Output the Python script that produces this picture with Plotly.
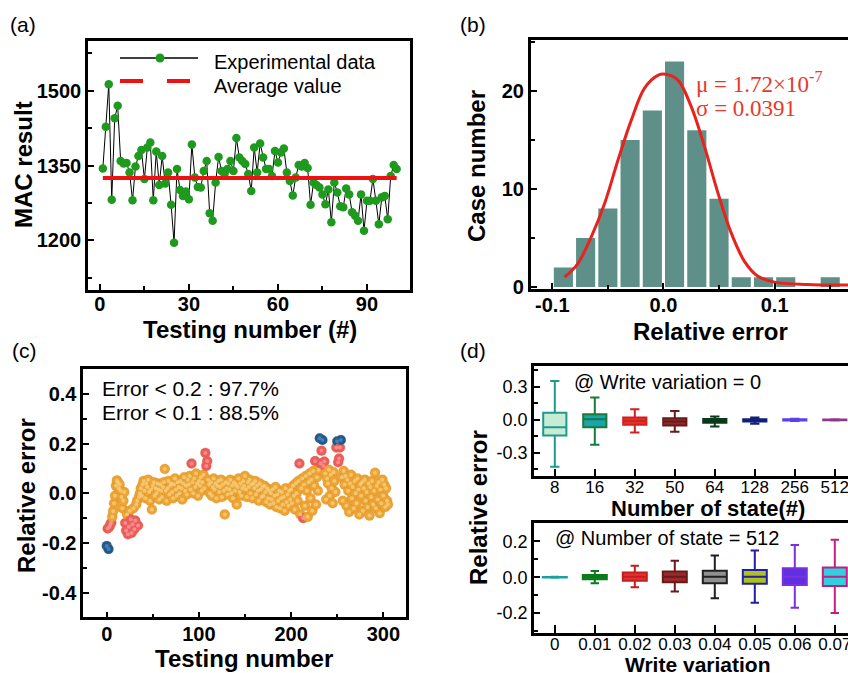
import plotly.graph_objects as go

W, H = 848, 673
SANS = "Liberation Sans, Arial, sans-serif"
SERIF = "Liberation Serif, Times New Roman, serif"

# ---------------- data ----------------
# (a) MAC results
mac_test_no = list(range(1, 101))
mac_result = [1344, 1428, 1513, 1281, 1445, 1470, 1359, 1354, 1355, 1336,
              1280, 1348, 1369, 1381, 1323, 1386, 1396, 1280, 1378, 1311,
              1369, 1314, 1336, 1271, 1195, 1343, 1301, 1289, 1298, 1282,
              1392, 1326, 1307, 1306, 1339, 1359, 1254, 1239, 1316, 1367,
              1339, 1333, 1343, 1359, 1339, 1405, 1366, 1359, 1353, 1333,
              1299, 1386, 1336, 1394, 1366, 1343, 1343, 1329, 1379, 1356,
              1376, 1384, 1336, 1319, 1290, 1326, 1351, 1348, 1355, 1345,
              1271, 1316, 1311, 1306, 1292, 1272, 1302, 1236, 1316, 1296,
              1268, 1266, 1304, 1292, 1256, 1249, 1239, 1292, 1219, 1279,
              1279, 1323, 1279, 1232, 1286, 1289, 1242, 1329, 1351, 1343]
mac_average = 1325
mac_xticks = [0, 30, 60, 90]
mac_yticks = [1200, 1350, 1500]

# (b) histogram of relative error
hist_centers = [-0.09, -0.07, -0.05, -0.03, -0.01, 0.01, 0.03, 0.05, 0.07, 0.09, 0.11, 0.15]
hist_counts = [2, 5, 8, 15, 18, 23, 16, 9, 1, 1, 1, 1]
fit_x = [-0.089, -0.077, -0.065, -0.053, -0.041, -0.029, -0.017, -0.005, 0.002,
         0.013, 0.025, 0.037, 0.049, 0.061, 0.073, 0.085, 0.100, 0.129, 0.166]
fit_y = [1.0, 2.4, 5.1, 8.5, 12.9, 17.0, 20.3, 21.6, 21.7,
         21.1, 18.4, 14.3, 9.6, 5.5, 2.6, 1.1, 0.5, 0.25, 0.2]
hist_xticks = [-0.1, 0.0, 0.1]
hist_yticks = [0, 10, 20]

# (c) relative error per test
rel_err = [
    -0.212, -0.142, -0.225, -0.135, -0.125, -0.118, -0.095, -0.072, -0.040, -0.010,
    0.030, 0.052, 0.045, 0.020, 0.035, 0.010, -0.015, -0.060, -0.030, 0.005,
    -0.120, -0.150, -0.085, -0.165, -0.135, -0.070, -0.105, -0.160, -0.125, -0.060,
    -0.145, -0.110, -0.045, -0.030, -0.130, -0.015, 0.000, 0.020, -0.010, 0.035,
    0.050, 0.010, -0.020, 0.040, 0.025, 0.055, 0.005, -0.030, 0.015, -0.065,
    0.030, 0.045, -0.010, 0.020, 0.000, 0.040, 0.015, -0.025, 0.035, 0.010,
    -0.015, 0.025, 0.045, 0.098, 0.010, -0.030, 0.020, 0.050, -0.005, 0.030,
    0.040, 0.005, -0.020, 0.035, 0.060, 0.015, -0.010, 0.045, 0.025, 0.000,
    0.050, 0.020, -0.025, 0.040, 0.065, 0.010, 0.030, -0.005, 0.055, 0.035,
    0.070, 0.015, 0.120, 0.045, 0.000, 0.060, 0.025, 0.080, 0.040, -0.010,
    0.050, 0.030, 0.065, 0.010, 0.045, 0.075, 0.020, 0.163, 0.110, 0.130,
    0.055, 0.035, 0.000, 0.045, -0.010, 0.025, 0.060, 0.015, 0.040, -0.020,
    0.030, 0.050, 0.005, 0.025, 0.055, -0.015, 0.035, 0.010, -0.085, 0.045,
    0.020, -0.005, 0.040, 0.015, 0.055, 0.000, 0.030, -0.020, 0.045, 0.010,
    0.035, -0.045, 0.025, 0.060, 0.005, 0.040, -0.010, 0.020, 0.050, 0.030,
    0.070, 0.015, -0.015, 0.045, 0.025, 0.055, 0.000, 0.035, -0.020, 0.040,
    0.020, 0.050, -0.005, 0.030, 0.010, -0.030, 0.040, 0.015, -0.015, 0.025,
    -0.010, 0.030, 0.005, -0.035, 0.020, -0.020, 0.010, -0.045, 0.000, -0.025,
    0.015, -0.040, -0.010, 0.025, -0.055, -0.005, -0.030, 0.010, -0.060, -0.020,
    0.005, -0.045, -0.015, -0.070, 0.020, -0.035, -0.005, -0.050, 0.010, -0.025,
    0.015, -0.040, 0.030, -0.010, -0.065, 0.040, 0.000, -0.030, 0.050, 0.120,
    -0.085, 0.020, 0.060, -0.100, 0.035, -0.050, 0.070, 0.010, -0.095, 0.045,
    0.080, -0.020, 0.055, -0.070, 0.090, 0.030, 0.130, -0.045, 0.065, 0.010,
    0.095, 0.222, 0.120, 0.172, 0.215, 0.110, 0.128, 0.080, -0.025, 0.060,
    0.040, 0.095, -0.010, 0.075, 0.020, -0.040, 0.085, 0.050, 0.005, 0.185,
    0.210, 0.125, 0.140, 0.185, 0.215, 0.065, -0.030, 0.090, 0.035, 0.070,
    -0.050, 0.055, 0.010, -0.075, 0.040, 0.075, -0.020, 0.025, -0.060, 0.050,
    0.000, -0.040, 0.060, 0.015, -0.085, 0.035, -0.010, 0.045, -0.070, 0.020,
    0.055, -0.030, 0.005, -0.055, 0.040, -0.090, 0.025, -0.015, 0.050, -0.045,
    0.010, 0.083, -0.060, 0.030, -0.025, 0.045, -0.080, 0.015, -0.040, 0.055,
    -0.010, 0.035, -0.055, 0.020, -0.030, -0.045]
test_no_c = list(range(len(rel_err)))
err_xticks = [0, 100, 200, 300]
err_yticks = [-0.4, -0.2, 0.0, 0.2, 0.4]

# (d) box statistics
state_labels = ["8", "16", "32", "50", "64", "128", "256", "512"]
state_q1 = [-0.141, -0.066, -0.045, -0.051, -0.027, -0.015, -0.005, -0.003]
state_med = [-0.066, 0.006, -0.009, -0.015, -0.006, -0.003, 0.0, 0.0]
state_q3 = [0.066, 0.051, 0.021, 0.015, 0.009, 0.006, 0.005, 0.003]
state_lo = [-0.426, -0.225, -0.114, -0.108, -0.060, -0.036, -0.010, -0.006]
state_hi = [0.354, 0.204, 0.096, 0.081, 0.030, 0.021, 0.010, 0.006]
state_fill = ["#c6ecd6", "#1aa3b0", "#e8302a", "#8e2a2a", "#1a1a1a", "#1a2a9a", "#4a4aff", "#9a4a9a"]
state_line = ["#1f9a8a", "#1a7a3a", "#d02020", "#6a1a1a", "#0a3a1a", "#10207a", "#5a40f0", "#8a3a8a"]

wv_labels = ["0", "0.01", "0.02", "0.03", "0.04", "0.05", "0.06", "0.07"]
wv_q1 = [-0.001, -0.011, -0.019, -0.028, -0.034, -0.037, -0.043, -0.049]
wv_med = [0.0, 0.002, 0.003, 0.003, 0.003, 0.003, 0.003, 0.003]
wv_q3 = [0.001, 0.013, 0.026, 0.032, 0.036, 0.041, 0.050, 0.054]
wv_lo = [-0.003, -0.034, -0.056, -0.080, -0.118, -0.142, -0.170, -0.200]
wv_hi = [0.003, 0.035, 0.064, 0.092, 0.121, 0.150, 0.181, 0.210]
wv_fill = ["#1aa0a0", "#1a9a2a", "#e8302a", "#9a2a2a", "#909090", "#b0c020", "#6030e0", "#30d0e0"]
wv_line = ["#1aa0a0", "#0a7a1a", "#c02020", "#6a1a1a", "#202020", "#2020a0", "#7a30e0", "#c02080"]


# ---------------- helpers ----------------
def px(x):
    return x / W


def py(y):
    return 1 - y / H


MINOR = dict(ticks="inside", ticklen=4, tickwidth=2, tickcolor="black")


def axis(domain, rng, anchor, mirror=True, size=20, **kw):
    d = dict(domain=domain, range=rng, anchor=anchor, showline=True, linecolor="black",
             linewidth=2.6, mirror=mirror, ticks="inside", ticklen=6, tickwidth=2,
             tickcolor="black", showgrid=False, zeroline=False, automargin=False,
             ticklabeloverflow="allow",
             tickfont=dict(family=SANS, size=size, color="black"))
    d.update(kw)
    return d


def bold_ticks(vals, fmt):
    return ["<b>" + fmt.format(v) + "</b>" for v in vals]


fig = go.Figure()

# ---- (a)
fig.add_trace(go.Scatter(x=mac_test_no, y=mac_result, mode="lines+markers",
                         line=dict(color="black", width=1),
                         marker=dict(color="#1e9a1e", size=8.5, line=dict(width=0)),
                         xaxis="x", yaxis="y", showlegend=False))
fig.add_trace(go.Scatter(x=[mac_test_no[0], mac_test_no[-1]], y=[mac_average, mac_average],
                         mode="lines", line=dict(color="#ee1111", width=4),
                         xaxis="x", yaxis="y", showlegend=False))

# ---- (b)
fig.add_trace(go.Bar(x=hist_centers, y=hist_counts, width=0.0172,
                     marker=dict(color="#5e9089", line=dict(width=0)),
                     xaxis="x2", yaxis="y2", showlegend=False))
fig.add_trace(go.Scatter(x=fit_x, y=fit_y, mode="lines", line=dict(color="#e8231e", width=3, shape="spline"),
                         xaxis="x2", yaxis="y2", showlegend=False))

# ---- (c)
cols, hl = [], []
for v in rel_err:
    a = abs(v)
    cols.append("#1a5a94" if a >= 0.2 else ("#ee5a5e" if a >= 0.1 else "#eea434"))
    hl.append("#5a8cc0" if a >= 0.2 else ("#f8a0a0" if a >= 0.1 else "#f8d488"))
fig.add_trace(go.Scatter(x=test_no_c, y=rel_err, mode="markers",
                         marker=dict(color=cols, size=10, line=dict(color="rgba(200,130,30,0.5)", width=0.5)),
                         xaxis="x3", yaxis="y3", showlegend=False))
fig.add_trace(go.Scatter(x=test_no_c, y=rel_err, mode="markers",
                         marker=dict(color=hl, size=4, opacity=0.7, line=dict(width=0)),
                         xaxis="x3", yaxis="y3", showlegend=False))

# ---- (d) top
for i in range(len(state_labels)):
    fig.add_trace(go.Box(x=[i], q1=[state_q1[i]], median=[state_med[i]], q3=[state_q3[i]],
                         lowerfence=[state_lo[i]], upperfence=[state_hi[i]],
                         fillcolor=state_fill[i], line=dict(color=state_line[i], width=2),
                         width=0.58, whiskerwidth=0.4, xaxis="x4", yaxis="y4", showlegend=False,
                         boxpoints=False))
# ---- (d) bottom
for i in range(len(wv_labels)):
    fig.add_trace(go.Box(x=[i], q1=[wv_q1[i]], median=[wv_med[i]], q3=[wv_q3[i]],
                         lowerfence=[wv_lo[i]], upperfence=[wv_hi[i]],
                         fillcolor=wv_fill[i], line=dict(color=wv_line[i], width=2),
                         width=0.6, whiskerwidth=0.35, xaxis="x5", yaxis="y5", showlegend=False,
                         boxpoints=False))

layout = dict(
    width=W, height=H, margin=dict(l=0, r=0, t=0, b=0), autosize=False,
    paper_bgcolor="white", plot_bgcolor="white", showlegend=False,
    xaxis=axis([px(88), px(410)], [-4, 104.5], "y",
               tickvals=mac_xticks, ticktext=bold_ticks(mac_xticks, "{:d}"),
               ticklabelstandoff=-6,
               minor=dict(dtick=15, tick0=0, **MINOR)),
    yaxis=axis([py(290), py(41)], [1100, 1600], "x",
               tickvals=mac_yticks, ticktext=bold_ticks(mac_yticks, "{:d}"),
               minor=dict(dtick=75, tick0=1200, **MINOR)),
    xaxis2=axis([px(530.7), 1.0], [-0.1194, 0.166], "y2",
                tickvals=hist_xticks, ticktext=bold_ticks(hist_xticks, "{:.1f}"),
                ticklabelstandoff=-4,
                minor=dict(dtick=0.05, tick0=0, **MINOR)),
    yaxis2=axis([py(289), py(40)], [-0.2, 25.2], "x2", mirror=False,
                tickvals=hist_yticks, ticktext=bold_ticks(hist_yticks, "{:d}"),
                minor=dict(dtick=5, tick0=0, **MINOR)),
    xaxis3=axis([px(83.3), px(406)], [-25.4, 324.6], "y3",
                tickvals=err_xticks, ticktext=bold_ticks(err_xticks, "{:d}"),
                ticklabelstandoff=-3,
                minor=dict(dtick=50, tick0=0, **MINOR)),
    yaxis3=axis([py(617.3), py(369.3)], [-0.5, 0.5], "x3",
                tickvals=err_yticks, ticktext=bold_ticks(err_yticks, "{:.1f}"),
                minor=dict(dtick=0.1, tick0=0, **MINOR)),
    xaxis4=axis([px(534), 1.0], [-0.52, 7.33], "y4", size=17,
                tickvals=list(range(len(state_labels))), ticktext=state_labels, ticklen=7,
                ticklabelstandoff=-6),
    yaxis4=axis([py(476), py(366)], [-0.51, 0.49], "x4", mirror=False, size=18,
                tickvals=[-0.3, 0, 0.3], ticktext=["-0.3", "0.0", "0.3"],
                minor=dict(dtick=0.15, tick0=0, **MINOR)),
    xaxis5=axis([px(534), 1.0], [-0.52, 7.33], "y5", size=17,
                tickvals=list(range(len(wv_labels))), ticktext=wv_labels, ticklen=8,
                ticklabelstandoff=-6),
    yaxis5=axis([py(632.7), py(522.7)], [-0.31, 0.305], "x5", mirror=False, size=18,
                tickvals=[-0.2, 0, 0.2], ticktext=["-0.2", "0.0", "0.2"],
                minor=dict(dtick=0.1, tick0=0, **MINOR)),
)
fig.update_layout(**layout)

ann = []


def text(x, y, s, size=20, bold=False, angle=0, xanchor="center", color="black", family=SANS):
    if bold:
        s = "<b>" + s + "</b>"
    ann.append(dict(x=px(x), y=py(y), xref="paper", yref="paper", text=s, showarrow=False,
                    xanchor=xanchor, yanchor="middle", textangle=angle,
                    font=dict(family=family, size=size, color=color)))


# panel labels
text(8, 25, "(a)", 21, xanchor="left")
text(458, 25, "(b)", 21, xanchor="left")
text(10, 350, "(c)", 21, xanchor="left")
text(458, 350, "(d)", 21, xanchor="left")

# axis titles
text(23, 165, "MAC result", 24, True, -90)
text(250, 329, "Testing number (#)", 24, True)
text(476, 166, "Case number", 24, True, -90)
text(710, 331, "Relative error", 24, True)
text(26, 496, "Relative error", 24, True, -90)
text(244, 658, "Testing number", 24, True)
text(478, 507, "Relative error", 24, True, -90)
text(708, 508, "Number of state(#)", 22, True)
text(697, 664, "Write variation", 21, True)

# legend (a)
text(212, 62, "Experimental data", 20, xanchor="left")
text(212, 86, "Average value", 20, xanchor="left")

# (b) fit parameters
text(694, 82, "μ = 1.72×10<sup>-7</sup>", 23, xanchor="left", color="#e8382a", family=SERIF)
text(694, 109, "σ = 0.0391", 23, xanchor="left", color="#e8382a", family=SERIF)

# (c) summary
text(100, 389, "Error < 0.2 : 97.7%", 21, xanchor="left")
text(100, 412, "Error < 0.1 : 88.5%", 21, xanchor="left")

# (d) conditions
text(572, 382, "@ Write variation = 0", 20, xanchor="left")
text(553, 538, "@ Number of state = 512", 20, xanchor="left")

shapes = [
    dict(type="line", xref="paper", yref="paper", x0=px(120), x1=px(198), y0=py(58), y1=py(58),
         line=dict(color="black", width=1.5)),
    dict(type="circle", xref="paper", yref="paper", x0=px(155.5), x1=px(164.5), y0=py(62.5), y1=py(53.5),
         fillcolor="#1e9a1e", line=dict(width=0)),
    dict(type="line", xref="paper", yref="paper", x0=px(120), x1=px(143), y0=py(81), y1=py(81),
         line=dict(color="#ee1111", width=4)),
    dict(type="line", xref="paper", yref="paper", x0=px(167), x1=px(190), y0=py(81), y1=py(81),
         line=dict(color="#ee1111", width=4)),
]
fig.update_layout(annotations=ann, shapes=shapes)

fig.write_html("out.html", config={"displayModeBar": False},
               post_script="document.body.style.margin='0';document.body.style.overflow='hidden';"
                           "document.documentElement.style.overflow='hidden';")
